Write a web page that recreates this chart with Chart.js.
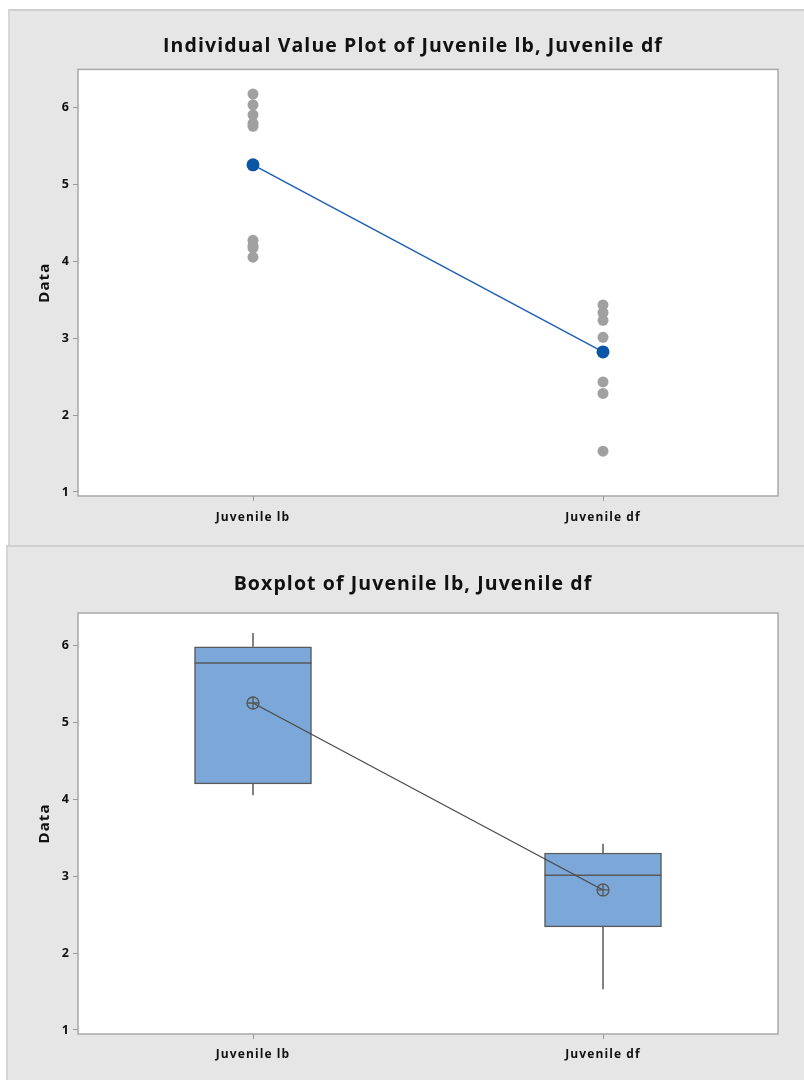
<!DOCTYPE html>
<html>
<head>
<meta charset="utf-8">
<script src="https://cdn.jsdelivr.net/npm/chart.js@4.4.0/dist/chart.umd.min.js"></script>
<style>
  html, body { margin: 0; padding: 0; background: #fff; }
  body { width: 804px; height: 1080px; position: relative; overflow: hidden; }
  .panel { position: absolute; background: #e6e6e6; border-top: 2px solid #cfcfcf; border-left: 2px solid #d6d6d6; box-sizing: border-box; }
  #p1 { left: 8px; top: 9px; width: 796px; height: 537px; }
  #p2 { left: 6px; top: 545px; width: 798px; height: 535px; }
  canvas { position: absolute; left: 0; }
  #ivp { top: 0; }
  #box { top: 546px; }
</style>
</head>
<body>
<div class="panel" id="p1"></div>
<div class="panel" id="p2"></div>
<canvas id="ivp" width="804" height="546"></canvas>
<canvas id="box" width="804" height="534"></canvas>
<script>
// ==== Data ====
const categories = ['Juvenile lb', 'Juvenile df'];
const lbValues = [6.17, 6.03, 5.90, 5.79, 5.75, 4.27, 4.20, 4.17, 4.05];
const dfValues = [3.43, 3.33, 3.23, 3.01, 2.43, 2.28, 1.53];
const means = [5.25, 2.82];

const boxMin = [4.05, 1.53];
const boxQ1 = [4.20, 2.34];
const boxMedian = [5.77, 3.01];
const boxQ3 = [5.98, 3.30];
const boxMax = [6.16, 3.42];

const yTicks = [1, 2, 3, 4, 5, 6];

// ==== Gaya ====
const fontFamily = "'Open Sans', 'DejaVu Sans', sans-serif";
const textColor = '#111111';
const frameColor = '#a8a8a8';
const tickColor = '#9a9a9a';

// ==== Plugin: area plot putih + bingkai, spasi huruf ====
const plotFrame = {
    id: 'plotFrame',
    beforeDraw(chart) {
        const { ctx, chartArea: a } = chart;
        ctx.letterSpacing = '1.1px';
        ctx.save();
        ctx.fillStyle = '#ffffff';
        ctx.fillRect(a.left, a.top, a.right - a.left, a.bottom - a.top);
        ctx.strokeStyle = frameColor;
        ctx.lineWidth = 1.5;
        ctx.strokeRect(a.left, a.top, a.right - a.left, a.bottom - a.top);
        ctx.restore();
    }
};

// ==== Plugin: whisker + median untuk boxplot ====
const boxLines = {
    id: 'boxLines',
    afterDatasetDraw(chart, args) {
        if (args.index !== 0) return;
        const { ctx } = chart;
        const y = chart.scales.y;
        const meta = chart.getDatasetMeta(0);
        ctx.save();
        ctx.strokeStyle = '#5a5a5a';
        ctx.lineWidth = 1.5;
        meta.data.forEach((bar, i) => {
            const half = bar.width / 2;
            const med = y.getPixelForValue(boxMedian[i]);
            ctx.beginPath();
            ctx.moveTo(bar.x - half, med);
            ctx.lineTo(bar.x + half, med);
            ctx.moveTo(bar.x, y.getPixelForValue(boxMax[i]));
            ctx.lineTo(bar.x, y.getPixelForValue(boxQ3[i]));
            ctx.moveTo(bar.x, y.getPixelForValue(boxQ1[i]));
            ctx.lineTo(bar.x, y.getPixelForValue(boxMin[i]));
            ctx.stroke();
        });
        ctx.restore();
    }
};

// padding kiri 48 supaya judul berada di tengah panel; sumbu y sisanya 30px
const padLeft = 48;

function makeScales(yMin, yMax, xAxisHeight, xPad) {
    return {
        x: {
            type: 'linear',
            min: 0.5,
            max: 2.5,
            offset: false,
            afterBuildTicks: axis => { axis.ticks = categories.map((c, i) => ({ value: i + 1 })); },
            afterFit: axis => { axis.height = xAxisHeight; },
            ticks: {
                color: textColor,
                padding: xPad,
                font: { family: fontFamily, size: 12, weight: 'bold' },
                callback: v => categories[v - 1]
            },
            grid: { display: true, offset: false, drawOnChartArea: false, drawTicks: true, tickLength: 5, color: tickColor },
            border: { display: false }
        },
        y: {
            type: 'linear',
            min: yMin,
            max: yMax,
            afterBuildTicks: axis => { axis.ticks = yTicks.map(v => ({ value: v })); },
            afterFit: axis => { axis.width = 78 - padLeft; },
            ticks: {
                color: textColor,
                padding: 3,
                font: { family: fontFamily, size: 12.5, weight: 'bold' }
            },
            grid: { display: true, drawOnChartArea: false, drawTicks: true, tickLength: 5, color: tickColor },
            border: { display: false },
            title: {
                display: true,
                text: 'Data',
                color: textColor,
                padding: { top: -12.5, bottom: 0 },
                font: { family: fontFamily, size: 15, weight: 'bold' }
            }
        }
    };
}

function titleOpts(text, padTop, padBottom) {
    return {
        display: true,
        text: text,
        color: textColor,
        padding: { top: padTop, bottom: padBottom },
        font: { family: fontFamily, size: 19.5, weight: 'bold' }
    };
}

// ==== Individual Value Plot ====
const ivpCtx = document.getElementById('ivp').getContext('2d');
new Chart(ivpCtx, {
    type: 'scatter',
    data: {
        datasets: [
            {
                type: 'line',
                data: means.map((m, i) => ({ x: i + 1, y: m })),
                borderColor: '#1f5fb4',
                borderWidth: 1.5,
                pointRadius: 6.5,
                pointBackgroundColor: '#0b55a6',
                pointBorderColor: '#0b55a6',
                pointBorderWidth: 0,
                fill: false,
                order: 0
            },
            {
                data: lbValues.map(v => ({ x: 1, y: v }))
                    .concat(dfValues.map(v => ({ x: 2, y: v }))),
                pointRadius: 5.5,
                pointBackgroundColor: '#a0a0a0',
                pointBorderWidth: 0,
                order: 1
            }
        ]
    },
    options: {
        responsive: false,
        animation: false,
        layout: { padding: { left: padLeft, right: 26, top: 0, bottom: 0 } },
        plugins: {
            legend: { display: false },
            tooltip: { enabled: false },
            title: titleOpts('Individual Value Plot of Juvenile lb, Juvenile df', 35, 11)
        },
        scales: makeScales(0.948, 6.49, 50, 9)
    },
    plugins: [plotFrame]
});

// ==== Boxplot ====
const boxCtx = document.getElementById('box').getContext('2d');
new Chart(boxCtx, {
    type: 'bar',
    data: {
        datasets: [
            {
                type: 'bar',
                data: boxQ1.map((q, i) => ({ x: i + 1, y: [q, boxQ3[i]] })),
                backgroundColor: '#7ba7d9',
                borderColor: '#5a5a5a',
                borderWidth: 1.5,
                borderSkipped: false,
                barThickness: 117,
                order: 2
            },
            {
                type: 'line',
                data: means.map((m, i) => ({ x: i + 1, y: m })),
                borderColor: '#4a4a4a',
                borderWidth: 1.3,
                pointRadius: 6,
                pointBackgroundColor: 'rgba(0,0,0,0)',
                pointBorderColor: '#555555',
                pointBorderWidth: 1.3,
                fill: false,
                order: 1
            },
            {
                type: 'line',
                showLine: false,
                data: means.map((m, i) => ({ x: i + 1, y: m })),
                pointStyle: 'cross',
                pointRadius: 6,
                pointBorderColor: '#555555',
                pointBorderWidth: 1.3,
                order: 0
            }
        ]
    },
    options: {
        responsive: false,
        animation: false,
        layout: { padding: { left: padLeft, right: 26, top: 0, bottom: 0 } },
        plugins: {
            legend: { display: false },
            tooltip: { enabled: false },
            title: titleOpts('Boxplot of Juvenile lb, Juvenile df', 27, 16.6)
        },
        scales: makeScales(0.948, 6.42, 46, 8)
    },
    plugins: [plotFrame, boxLines]
});
</script>
</body>
</html>
